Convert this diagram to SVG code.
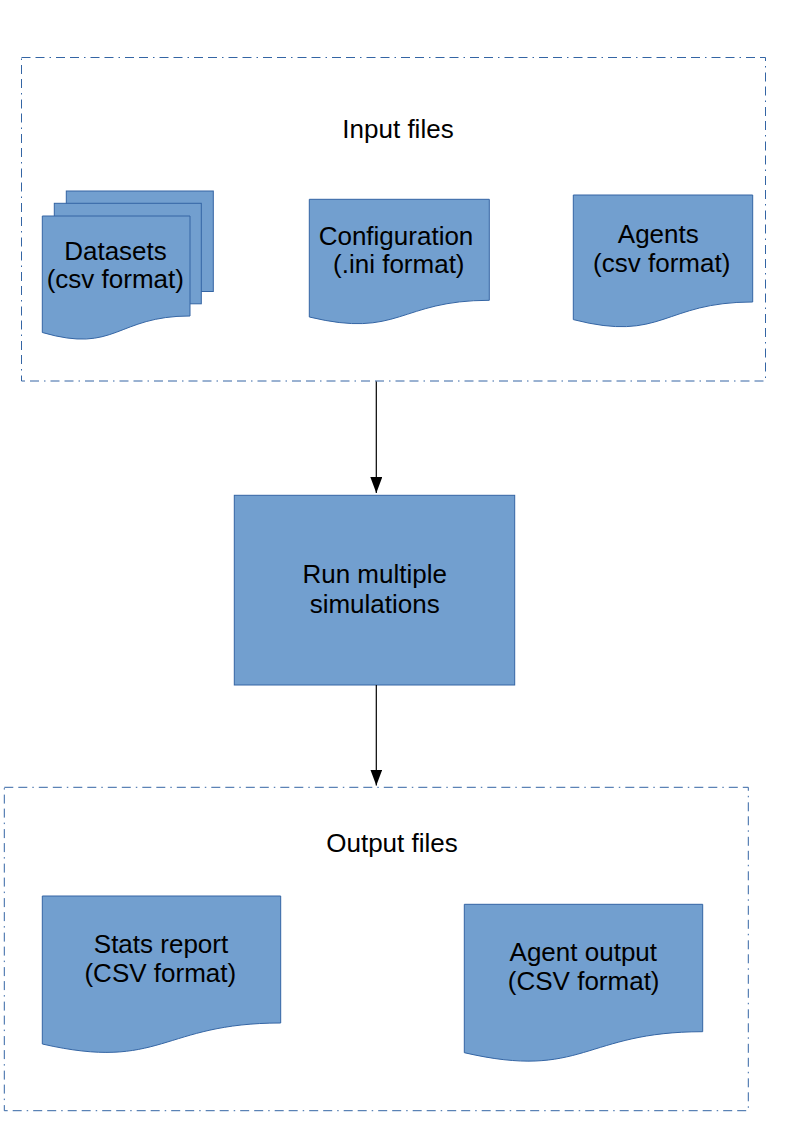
<svg xmlns="http://www.w3.org/2000/svg" width="794" height="1123" viewBox="0 0 794 1123">
<style>
.frame{fill:none;stroke:#3465a4;stroke-width:1;stroke-dasharray:9 5 9 5 1.5 5}
.shape{fill:#729fcf;stroke:#3465a4;stroke-width:1}
.lbl{font-family:"Liberation Sans",Arial,sans-serif;font-size:26px;fill:#000;text-anchor:middle}
.conn{stroke:#000;stroke-width:1.2;fill:none}
</style>
<defs>
<marker id="arr" viewBox="0 0 16 12" refX="16" refY="6" markerWidth="16" markerHeight="12" markerUnits="userSpaceOnUse" orient="auto">
<path d="M0,0 L16,6 L0,12 Z" fill="#000"/>
</marker>
</defs>
<rect width="794" height="1123" fill="#fff"/>

<g id="input-files">
<rect class="frame" x="21.5" y="57.5" width="744" height="323.5"/>
<text class="lbl" x="398" y="138.3">Input files</text>
</g>

<g id="datasets">
<rect class="shape" x="66.3" y="191" width="147" height="100.5"/>
<rect class="shape" x="54.3" y="203.3" width="147" height="100.5"/>
<path class="shape" d="M42.3,216 L190,216 L190,316 C116.2,316 116.2,354 42.3,332.5 Z"/>
<text class="lbl" x="115.5" y="260">Datasets</text>
<text class="lbl" x="115.3" y="288.3">(csv format)</text>
</g>

<g id="configuration">
<path class="shape" d="M309.3,199.3 L489.3,199.3 L489.3,300.3 C399.3,300.3 399.3,338.8 309.3,317 Z"/>
<text class="lbl" x="396" y="245">Configuration</text>
<text class="lbl" x="398.8" y="273.3">(.ini format)</text>
</g>

<g id="agents">
<path class="shape" d="M573.3,195 L752.7,195 L752.7,302 C663,302 663,342.7 573.3,319.6 Z"/>
<text class="lbl" x="658.3" y="243.3">Agents</text>
<text class="lbl" x="661.7" y="271.7">(csv format)</text>
</g>

<g id="run-simulations">
<rect class="shape" x="234.3" y="495.3" width="280.4" height="189.7"/>
<text class="lbl" x="374.7" y="583.3">Run multiple</text>
<text class="lbl" x="374.7" y="613.3">simulations</text>
</g>

<g id="output-files">
<rect class="frame" x="4.3" y="787.3" width="744" height="323.4"/>
<text class="lbl" x="392" y="851.7">Output files</text>
</g>

<g id="stats-report">
<path class="shape" d="M42.3,896 L280.7,896 L280.7,1023 C161.5,1023 161.5,1071.4 42.3,1044 Z"/>
<text class="lbl" x="161" y="953.3">Stats report</text>
<text class="lbl" x="160.3" y="981.7">(CSV format)</text>
</g>

<g id="agent-output">
<path class="shape" d="M464.3,904.3 L702.7,904.3 L702.7,1031.7 C583.5,1031.7 583.5,1080.2 464.3,1052.7 Z"/>
<text class="lbl" x="583.3" y="961">Agent output</text>
<text class="lbl" x="583.7" y="990">(CSV format)</text>
</g>

<g id="connectors">
<line class="conn" x1="376.3" y1="381.5" x2="376.3" y2="493" marker-end="url(#arr)"/>
<line class="conn" x1="376.3" y1="685" x2="376.3" y2="785.5" marker-end="url(#arr)"/>
</g>
</svg>
